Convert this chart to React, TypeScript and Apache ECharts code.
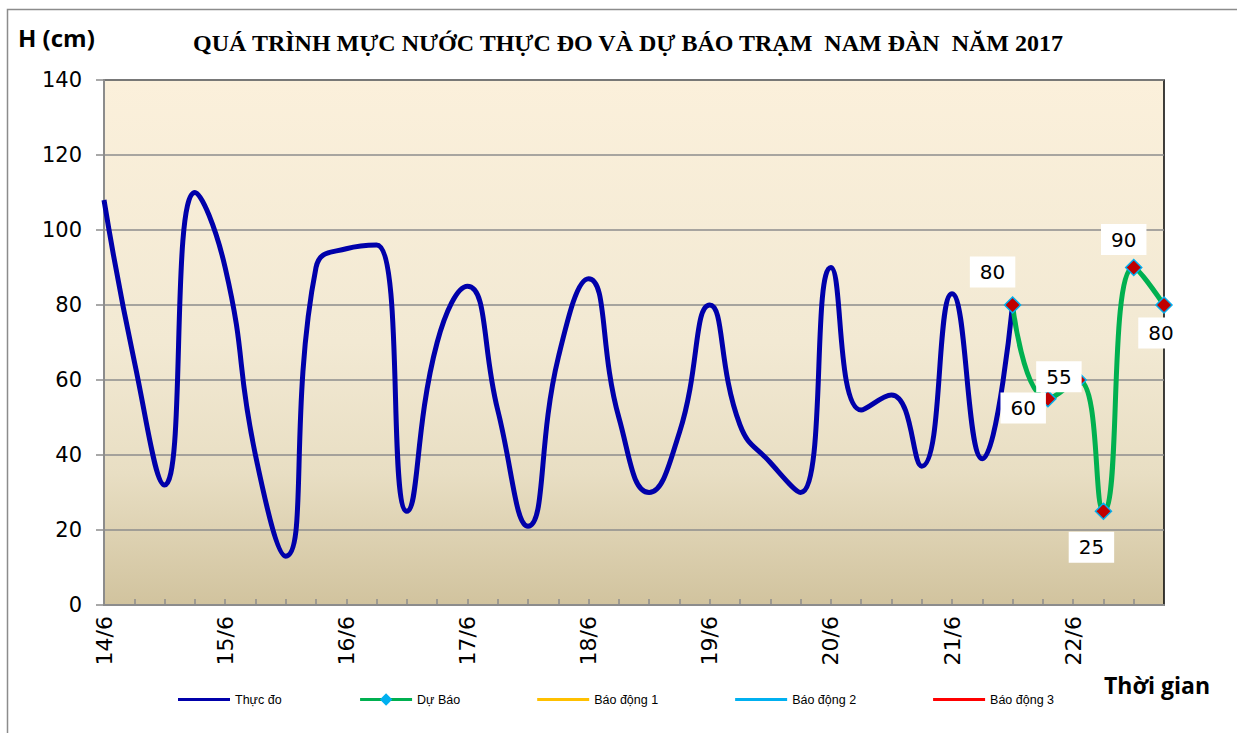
import React, { useEffect, useRef } from "react";
import * as echarts from "echarts";

const dayLabels = ["14/6", "15/6", "16/6", "17/6", "18/6", "19/6", "20/6", "21/6", "22/6"];
// measured water level every 6 hours from 14/6 00h
const measuredValues = [
  108, 65, 32, 110, 90, 40, 13, 90, 95, 96, 25, 70, 85, 52, 21, 66, 87, 50, 30, 46,
  80, 48, 38, 30, 90, 52, 56, 37, 83, 39, 80,
];
// forecast: hours since 14/6 00h and values
const forecastHours = [180, 187, 193, 198, 204, 210];
const forecastValues = [80, 55, 60, 25, 90, 80];
const forecastLabelOffsets: [number, number][] = [
  [-20, -33],
  [11, -22],
  [-55, 28],
  [-12, 36],
  [-10, -28],
  [-3, 28],
];
const yTicks = { min: 0, max: 140, interval: 20 };

const lineIcon =
  "path://M0,0h0.01v0.01h-0.01z M0,4.5h52v3h-52z M0,12h0.01v-0.01h-0.01z";

export default function App() {
  const ref = useRef<HTMLDivElement>(null);
  useEffect(() => {
    if (!ref.current) return;
    const chart = echarts.init(ref.current, null, { renderer: "svg" });
    const measured = measuredValues.map((v, i) => [i * 6, v]);
    const forecast = forecastValues.map((v, i) => [forecastHours[i], v]);
    chart.setOption({
      animation: false,
      backgroundColor: "#ffffff",
      title: {
        text: "QUÁ TRÌNH MỰC NƯỚC THỰC ĐO VÀ DỰ BÁO TRẠM  NAM ĐÀN  NĂM 2017",
        left: 188,
        top: 26,
        textStyle: {
          fontFamily: "Liberation Serif",
          fontWeight: "bold",
          fontSize: 24,
          color: "#000",
        },
      },
      graphic: [
        {
          type: "rect",
          shape: { x: 7.5, y: 9.5, width: 1240, height: 740 },
          style: { fill: "none", stroke: "#8c8c8c", lineWidth: 1.5 },
          silent: true,
        },
        {
          type: "text",
          left: 18,
          top: 25,
          style: {
            text: "H (cm)",
            fontFamily: "Open Sans",
            fontWeight: "bold",
            fontSize: 24,
            fill: "#000",
          },
        },
        {
          type: "text",
          left: 1104,
          top: 673,
          style: {
            text: "Thời gian",
            fontFamily: "Open Sans",
            fontWeight: "bold",
            fontSize: 23,
            fill: "#000",
          },
        },
      ],
      legend: {
        left: 178,
        top: 693,
        itemWidth: 52,
        itemHeight: 12,
        itemGap: 77,
        padding: 0,
        lineStyle: { width: 3 },
        textStyle: {
          fontFamily: "Liberation Sans",
          fontSize: 12.5,
          color: "#000",
        },
        data: [
          { name: "Thực đo", icon: lineIcon, itemStyle: { color: "#0000AA" } },
          { name: "Dự Báo", itemStyle: { color: "#00B0F0", borderColor: "#00B0F0" } },
          { name: "Báo động 1", icon: lineIcon, itemStyle: { color: "#FFC000" } },
          { name: "Báo động 2", icon: lineIcon, itemStyle: { color: "#00B0F0" } },
          { name: "Báo động 3", icon: lineIcon, itemStyle: { color: "#FF0000" } },
        ],
      },
      grid: {
        left: 104,
        top: 80,
        width: 1060,
        height: 525,
        show: true,
        borderColor: "#000",
        borderWidth: 1.5,
        backgroundColor: {
          type: "linear",
          x: 0,
          y: 0,
          x2: 0,
          y2: 1,
          colorStops: [
            { offset: 0, color: "#FBF0DB" },
            { offset: 0.5, color: "#F2E9D3" },
            { offset: 0.75, color: "#E8DEC3" },
            { offset: 1, color: "#D1C39E" },
          ],
        },
      },
      xAxis: {
        type: "value",
        min: 0,
        max: 210,
        interval: 6,
        axisLine: { show: true, lineStyle: { color: "#8c8c8c", width: 2 } },
        axisTick: { show: true, inside: true, length: 6, lineStyle: { color: "#8c8c8c", width: 1.5 } },
        splitLine: { show: false },
        axisLabel: {
          rotate: 90,
          margin: 11,
          fontFamily: "DejaVu Sans",
          fontSize: 22,
          color: "#000",
          showMaxLabel: false,
          formatter: (v: number) => (v % 24 === 0 ? dayLabels[v / 24] ?? "" : ""),
        },
      },
      yAxis: {
        type: "value",
        min: yTicks.min,
        max: yTicks.max,
        interval: yTicks.interval,
        axisLine: { show: true, lineStyle: { color: "#8c8c8c", width: 2 } },
        axisTick: { show: true, inside: false, length: 8, lineStyle: { color: "#8c8c8c", width: 1.5 } },
        splitLine: { show: true, lineStyle: { color: "#8c8c8c", width: 1.5 } },
        axisLabel: {
          margin: 22,
          fontFamily: "DejaVu Sans",
          fontSize: 21,
          color: "#000",
        },
      },
      series: [
        {
          name: "Thực đo",
          type: "line",
          data: measured,
          smooth: 0.5,
          symbol: "none",
          color: "#0000AA",
          lineStyle: { color: "#0000AA", width: 5 },
          z: 3,
        },
        {
          name: "Dự Báo",
          type: "line",
          data: forecast,
          smooth: 0.5,
          symbol: "diamond",
          symbolSize: 16,
          color: "#00B0F0",
          lineStyle: { color: "#00B050", width: 5 },
          itemStyle: { color: "#C00000", borderColor: "#00B0F0", borderWidth: 1.5 },
          label: {
            show: true,
            position: "inside",
            fontFamily: "DejaVu Sans",
            fontSize: 20,
            color: "#000",
            backgroundColor: "#ffffff",
            padding: [6, 10, 5, 10],
          },
          labelLayout: (p: any) => {
            const o = forecastLabelOffsets[p.dataIndex] || [0, 0];
            return { dx: o[0], dy: o[1], hideOverlap: false };
          },
          z: 4,
        },
        { name: "Báo động 1", type: "line", data: [], color: "#FFC000", lineStyle: { color: "#FFC000" } },
        { name: "Báo động 2", type: "line", data: [], color: "#00B0F0", lineStyle: { color: "#00B0F0" } },
        { name: "Báo động 3", type: "line", data: [], color: "#FF0000", lineStyle: { color: "#FF0000" } },
      ],
    });
    return () => chart.dispose();
  }, []);
  return (
    <div
      ref={ref}
      style={{ position: "fixed", left: 0, top: 0, width: 1237, height: 733 }}
    />
  );
}
